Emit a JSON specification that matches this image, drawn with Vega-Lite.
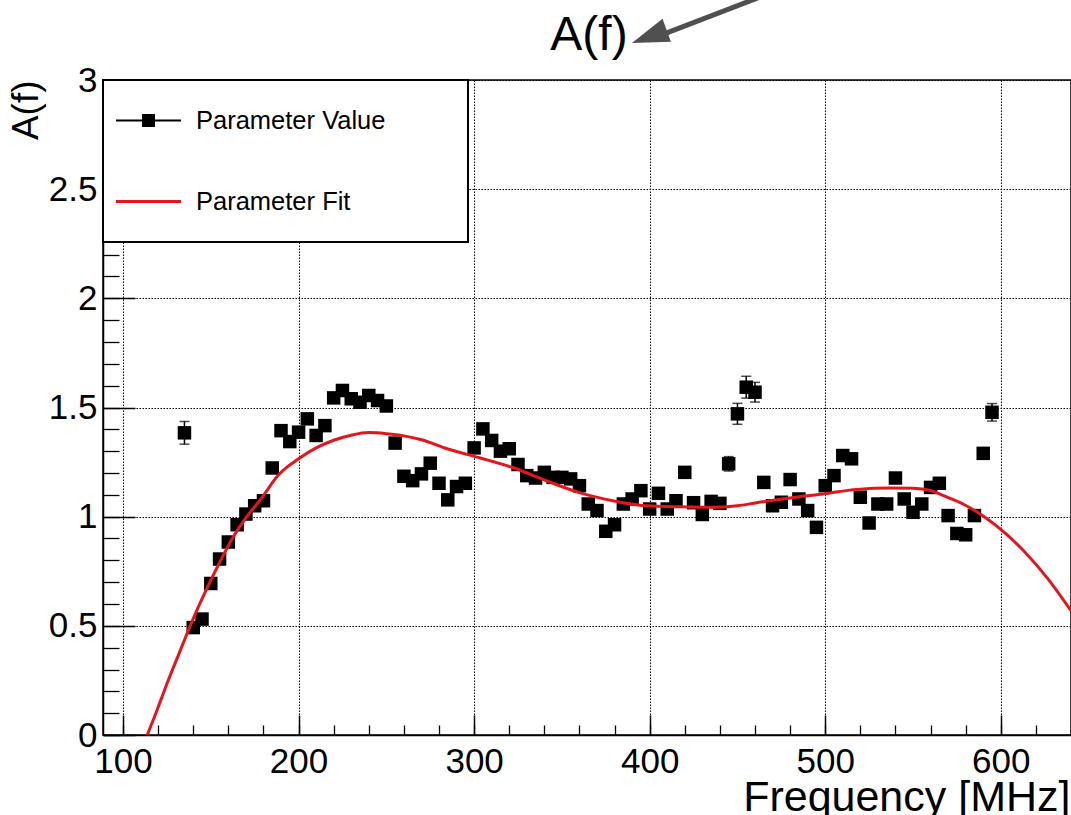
{
  "$schema": "https://vega.github.io/schema/vega-lite/v6.json",
  "width": 968,
  "height": 655,
  "autosize": {"type": "none"},
  "padding": {"left": 103, "top": 80, "right": 0, "bottom": 80},
  "background": "white",
  "title": {"text": "A(f)", "fontSize": 48, "font": "Liberation Sans", "fontWeight": "normal", "color": "black", "anchor": "middle", "frame": "group", "baseline": "alphabetic", "offset": -104, "dx": 2},
  "config": {
    "view": {"stroke": "black", "strokeWidth": 1.5},
    "font": "Liberation Sans"
  },
  "datasets": {
    "points": [
      {"f": 135, "A": 1.384, "err": 0.052},
      {"f": 140, "A": 0.492, "err": 0.02},
      {"f": 145, "A": 0.531, "err": 0.02},
      {"f": 150, "A": 0.694, "err": 0.02},
      {"f": 155, "A": 0.806, "err": 0.02},
      {"f": 160, "A": 0.884, "err": 0.02},
      {"f": 165, "A": 0.963, "err": 0.02},
      {"f": 170, "A": 1.012, "err": 0.02},
      {"f": 175, "A": 1.05, "err": 0.02},
      {"f": 180, "A": 1.073, "err": 0.02},
      {"f": 185, "A": 1.223, "err": 0.02},
      {"f": 190, "A": 1.394, "err": 0.02},
      {"f": 195, "A": 1.344, "err": 0.02},
      {"f": 200, "A": 1.387, "err": 0.02},
      {"f": 205, "A": 1.448, "err": 0.02},
      {"f": 210, "A": 1.372, "err": 0.02},
      {"f": 215, "A": 1.417, "err": 0.02},
      {"f": 220, "A": 1.544, "err": 0.02},
      {"f": 225, "A": 1.578, "err": 0.02},
      {"f": 230, "A": 1.54, "err": 0.02},
      {"f": 235, "A": 1.524, "err": 0.02},
      {"f": 240, "A": 1.555, "err": 0.02},
      {"f": 245, "A": 1.532, "err": 0.02},
      {"f": 250, "A": 1.507, "err": 0.02},
      {"f": 255, "A": 1.337, "err": 0.02},
      {"f": 260, "A": 1.185, "err": 0.02},
      {"f": 265, "A": 1.165, "err": 0.02},
      {"f": 270, "A": 1.196, "err": 0.02},
      {"f": 275, "A": 1.245, "err": 0.02},
      {"f": 280, "A": 1.153, "err": 0.02},
      {"f": 285, "A": 1.077, "err": 0.02},
      {"f": 290, "A": 1.138, "err": 0.02},
      {"f": 295, "A": 1.153, "err": 0.02},
      {"f": 300, "A": 1.315, "err": 0.02},
      {"f": 305, "A": 1.402, "err": 0.02},
      {"f": 310, "A": 1.349, "err": 0.02},
      {"f": 315, "A": 1.3, "err": 0.02},
      {"f": 320, "A": 1.311, "err": 0.02},
      {"f": 325, "A": 1.239, "err": 0.02},
      {"f": 330, "A": 1.188, "err": 0.02},
      {"f": 335, "A": 1.177, "err": 0.02},
      {"f": 340, "A": 1.203, "err": 0.02},
      {"f": 345, "A": 1.18, "err": 0.02},
      {"f": 350, "A": 1.18, "err": 0.02},
      {"f": 355, "A": 1.173, "err": 0.02},
      {"f": 360, "A": 1.142, "err": 0.02},
      {"f": 365, "A": 1.058, "err": 0.02},
      {"f": 370, "A": 1.028, "err": 0.02},
      {"f": 375, "A": 0.933, "err": 0.02},
      {"f": 380, "A": 0.963, "err": 0.02},
      {"f": 385, "A": 1.058, "err": 0.02},
      {"f": 390, "A": 1.081, "err": 0.02},
      {"f": 395, "A": 1.119, "err": 0.02},
      {"f": 400, "A": 1.035, "err": 0.02},
      {"f": 405, "A": 1.107, "err": 0.02},
      {"f": 410, "A": 1.035, "err": 0.02},
      {"f": 415, "A": 1.073, "err": 0.02},
      {"f": 420, "A": 1.203, "err": 0.02},
      {"f": 425, "A": 1.064, "err": 0.02},
      {"f": 430, "A": 1.01, "err": 0.02},
      {"f": 435, "A": 1.07, "err": 0.02},
      {"f": 440, "A": 1.061, "err": 0.02},
      {"f": 445, "A": 1.242, "err": 0.033},
      {"f": 450, "A": 1.471, "err": 0.048},
      {"f": 455, "A": 1.593, "err": 0.05},
      {"f": 460, "A": 1.57, "err": 0.045},
      {"f": 465, "A": 1.157, "err": 0.02},
      {"f": 470, "A": 1.05, "err": 0.02},
      {"f": 475, "A": 1.066, "err": 0.02},
      {"f": 480, "A": 1.17, "err": 0.02},
      {"f": 485, "A": 1.081, "err": 0.02},
      {"f": 490, "A": 1.028, "err": 0.02},
      {"f": 495, "A": 0.951, "err": 0.02},
      {"f": 500, "A": 1.142, "err": 0.02},
      {"f": 505, "A": 1.188, "err": 0.02},
      {"f": 510, "A": 1.28, "err": 0.02},
      {"f": 515, "A": 1.265, "err": 0.02},
      {"f": 520, "A": 1.089, "err": 0.02},
      {"f": 525, "A": 0.971, "err": 0.02},
      {"f": 530, "A": 1.058, "err": 0.02},
      {"f": 535, "A": 1.058, "err": 0.02},
      {"f": 540, "A": 1.177, "err": 0.02},
      {"f": 545, "A": 1.081, "err": 0.02},
      {"f": 550, "A": 1.02, "err": 0.02},
      {"f": 555, "A": 1.058, "err": 0.02},
      {"f": 560, "A": 1.134, "err": 0.02},
      {"f": 565, "A": 1.153, "err": 0.02},
      {"f": 570, "A": 1.005, "err": 0.02},
      {"f": 575, "A": 0.923, "err": 0.02},
      {"f": 580, "A": 0.917, "err": 0.02},
      {"f": 585, "A": 1.005, "err": 0.02},
      {"f": 590, "A": 1.29, "err": 0.02},
      {"f": 595, "A": 1.478, "err": 0.04}
    ],
    "fit": [
      {"f": 113.8, "A": 0},
      {"f": 118, "A": 0.085},
      {"f": 122, "A": 0.17},
      {"f": 126, "A": 0.255},
      {"f": 130, "A": 0.335},
      {"f": 134, "A": 0.415},
      {"f": 137.5, "A": 0.485},
      {"f": 142, "A": 0.57},
      {"f": 148, "A": 0.675},
      {"f": 155, "A": 0.79},
      {"f": 163, "A": 0.91},
      {"f": 170, "A": 0.995},
      {"f": 178, "A": 1.075},
      {"f": 189, "A": 1.195},
      {"f": 200, "A": 1.265},
      {"f": 210, "A": 1.315},
      {"f": 220, "A": 1.35},
      {"f": 230, "A": 1.373},
      {"f": 240, "A": 1.385},
      {"f": 250, "A": 1.38},
      {"f": 260, "A": 1.37},
      {"f": 270, "A": 1.352},
      {"f": 285, "A": 1.31},
      {"f": 303, "A": 1.27},
      {"f": 322, "A": 1.225},
      {"f": 341, "A": 1.165},
      {"f": 360, "A": 1.11},
      {"f": 379, "A": 1.073},
      {"f": 398, "A": 1.05},
      {"f": 417, "A": 1.045},
      {"f": 435, "A": 1.043},
      {"f": 450, "A": 1.05},
      {"f": 461, "A": 1.064},
      {"f": 480, "A": 1.086},
      {"f": 499, "A": 1.104},
      {"f": 518, "A": 1.125},
      {"f": 537, "A": 1.131},
      {"f": 550, "A": 1.13},
      {"f": 560, "A": 1.12},
      {"f": 567, "A": 1.097},
      {"f": 578.5, "A": 1.058},
      {"f": 590, "A": 1.003},
      {"f": 603, "A": 0.921},
      {"f": 613, "A": 0.844},
      {"f": 627, "A": 0.714},
      {"f": 640, "A": 0.569}
    ],
    "series": [
      {"series": "Parameter Value"},
      {"series": "Parameter Fit"}
    ],
    "arrow": [
      {"x1": 403.1, "y1": 3.195, "x2": 463.2, "y2": 3.381}
    ],
    "arrowhead": [
      {"x": 389.9, "y": 3.17}
    ]
  },
  "resolve": {"axis": {"x": "independent", "y": "independent"}},
  "layer": [
    {
      "data": {"name": "series"},
      "mark": {"type": "point", "filled": true, "opacity": 0},
      "encoding": {
        "color": {
          "field": "series", "type": "nominal",
          "scale": {"domain": ["Parameter Value", "Parameter Fit"], "range": ["black", "#e8141c"]},
          "legend": {
            "orient": "none", "legendX": 0, "legendY": 0, "title": null,
            "padding": 8, "strokeColor": "black", "fillColor": "white",
            "symbolSize": 4225, "symbolStrokeWidth": 0, "symbolOpacity": 1, "symbolOffset": 5,
            "labelOffset": 15, "labelFontSize": 25.5, "labelFont": "Liberation Sans", "labelColor": "black",
            "labelLimit": 600, "rowPadding": 16,
            "encode": {"legend": {"update": {"strokeWidth": {"value": 2}}}}
          }
        },
        "shape": {
          "field": "series", "type": "nominal",
          "scale": {"domain": ["Parameter Value", "Parameter Fit"], "range": ["M0,-1M9.58,1M-1,-0.031H-0.2V-0.2H0.2V-0.031H1V0.031H0.2V0.2H-0.2V0.031H-1Z", "M0,-1M9.58,1M-1,-0.046H1V0.046H-1Z"]},
          "legend": {
            "orient": "none", "legendX": 0, "legendY": 0, "title": null,
            "padding": 8, "strokeColor": "black", "fillColor": "white",
            "symbolSize": 4225, "symbolStrokeWidth": 0, "symbolOpacity": 1, "symbolOffset": 5,
            "labelOffset": 15, "labelFontSize": 25.5, "labelFont": "Liberation Sans", "labelColor": "black",
            "labelLimit": 600, "rowPadding": 16,
            "encode": {"legend": {"update": {"strokeWidth": {"value": 2}}}}
          }
        }
      }
    },
    {
      "data": {"name": "points"},
      "mark": {"type": "errorbar", "ticks": {"size": 10, "thickness": 1.5, "color": "black"}, "rule": {"strokeWidth": 1.5, "color": "black"}},
      "encoding": {
        "x": {"field": "f", "type": "quantitative", "scale": {"domain": [88.6, 640], "nice": false, "zero": false}, "axis": null},
        "y": {"field": "A", "type": "quantitative", "scale": {"domain": [0, 3], "nice": false, "zero": false}, "axis": null},
        "yError": {"field": "err"}
      }
    },
    {
      "data": {"name": "points"},
      "mark": {"type": "point", "shape": "square", "filled": true, "size": 182, "color": "black", "opacity": 1, "strokeWidth": 0},
      "encoding": {
        "x": {
          "field": "f", "type": "quantitative",
          "axis": {
            "orient": "bottom", "values": [100, 200, 300, 400, 500, 600], "format": "d",
            "grid": true, "gridColor": "black", "gridDash": [1.5, 1.5], "gridWidth": 1, "gridOpacity": 1,
            "ticks": false, "domain": true, "domainColor": "black", "domainWidth": 1.5,
            "labelFontSize": 35, "labelFont": "Liberation Sans", "labelColor": "black", "labelPadding": 9,
            "labelFlush": false, "labelOverlap": false,
            "title": "Frequency [MHz]", "titleFontSize": 43, "titleFont": "Liberation Sans", "titleFontWeight": "normal",
            "titleColor": "black", "titleAnchor": "end", "titleAlign": "right", "titleBaseline": "alphabetic",
            "titleX": 967, "titleY": 75
          }
        },
        "y": {
          "field": "A", "type": "quantitative",
          "axis": {
            "orient": "left", "values": [0, 0.5, 1, 1.5, 2, 2.5, 3], "format": "~g",
            "grid": true, "gridColor": "black", "gridDash": [1.5, 1.5], "gridWidth": 1, "gridOpacity": 1,
            "ticks": false, "domain": true, "domainColor": "black", "domainWidth": 1.5,
            "labelFontSize": 35, "labelFont": "Liberation Sans", "labelColor": "black", "labelPadding": 6,
            "labelFlush": false, "labelOverlap": false,
            "title": "A(f)", "titleFontSize": 37, "titleFont": "Liberation Sans", "titleFontWeight": "normal",
            "titleColor": "black", "titleAngle": 270, "titleAlign": "right", "titleBaseline": "alphabetic",
            "titleX": -66, "titleY": 0
          }
        }
      }
    },
    {
      "data": {"name": "fit"},
      "mark": {"type": "line", "color": "#e8141c", "strokeWidth": 3, "interpolate": "monotone"},
      "encoding": {
        "x": {
          "field": "f", "type": "quantitative",
          "axis": {"orient": "bottom", "values": [100, 200, 300, 400, 500, 600], "grid": false, "ticks": true, "tickSize": -20, "tickColor": "black", "tickWidth": 1.5, "labels": false, "domain": false, "title": null}
        },
        "y": {
          "field": "A", "type": "quantitative",
          "axis": {"orient": "left", "values": [0, 0.5, 1, 1.5, 2, 2.5, 3], "grid": false, "ticks": true, "tickSize": -32, "tickColor": "black", "tickWidth": 1.5, "labels": false, "domain": false, "title": null}
        }
      }
    },
    {
      "data": {"name": "arrow"},
      "mark": {"type": "rule", "color": "#505050", "strokeWidth": 5},
      "encoding": {
        "x": {
          "field": "x1", "type": "quantitative",
          "axis": {"orient": "bottom", "values": [100, 120, 140, 160, 180, 200, 220, 240, 260, 280, 300, 320, 340, 360, 380, 400, 420, 440, 460, 480, 500, 520, 540, 560, 580, 600, 620, 640], "grid": false, "ticks": true, "tickSize": -10, "tickColor": "black", "tickWidth": 1.3, "labels": false, "domain": false, "title": null}
        },
        "y": {
          "field": "y1", "type": "quantitative",
          "axis": {"orient": "left", "values": [0, 0.1, 0.2, 0.3, 0.4, 0.5, 0.6, 0.7, 0.8, 0.9, 1, 1.1, 1.2, 1.3, 1.4, 1.5, 1.6, 1.7, 1.8, 1.9, 2, 2.1, 2.2, 2.3, 2.4, 2.5, 2.6, 2.7, 2.8, 2.9, 3], "grid": false, "ticks": true, "tickSize": -16, "tickColor": "black", "tickWidth": 1.3, "labels": false, "domain": false, "title": null}
        },
        "x2": {"field": "x2"},
        "y2": {"field": "y2"}
      }
    },
    {
      "data": {"name": "arrowhead"},
      "mark": {"type": "point", "filled": true, "color": "#505050", "opacity": 1, "size": 5476, "angle": 340, "strokeWidth": 0, "shape": "M0,0L1,-0.33L1,0.33Z"},
      "encoding": {
        "x": {"field": "x", "type": "quantitative", "axis": null},
        "y": {"field": "y", "type": "quantitative", "axis": null}
      }
    }
  ]
}
